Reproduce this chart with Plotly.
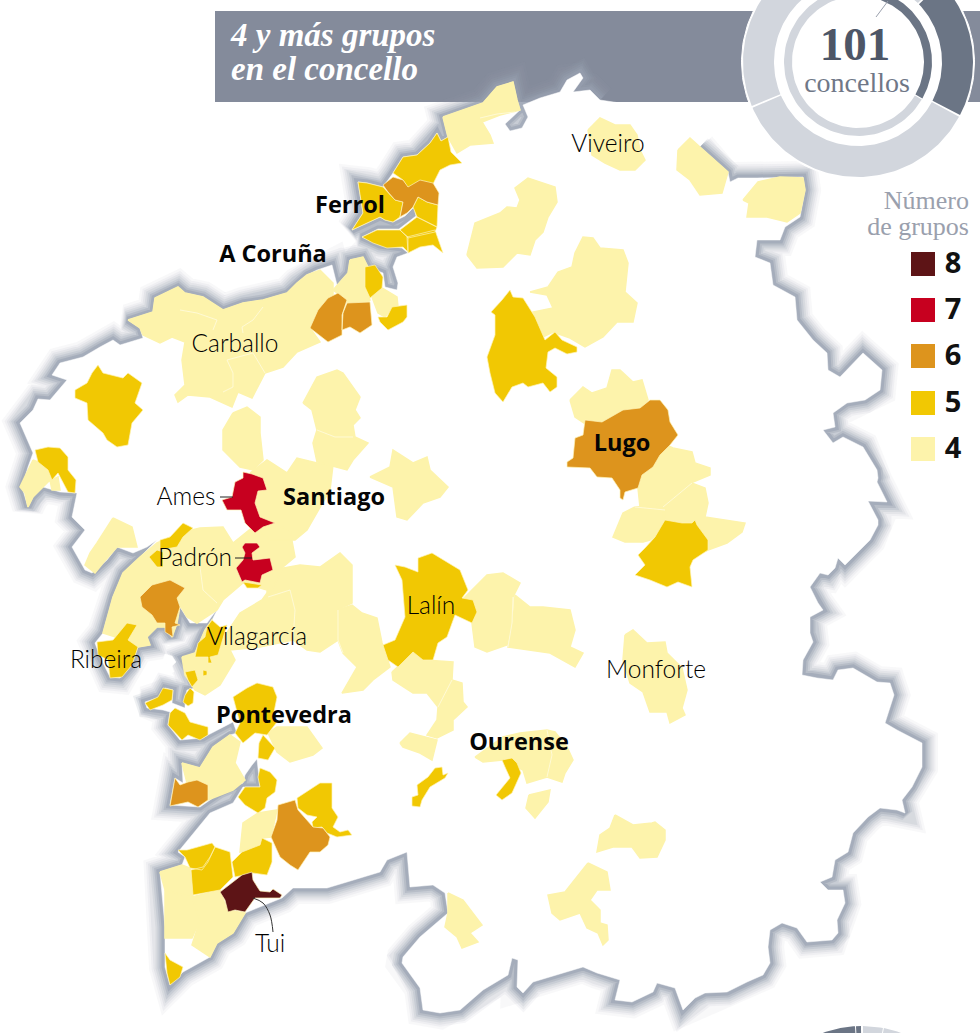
import numpy as np
import plotly.graph_objects as go

# outlines, in picture units
GALICIA = [(20,423),(33,410),(38,399),(50,400),(67,380),(52,375),(60,363),(83,357),(100,347),(113,340),(120,345),(143,338),(140,328),(128,320),(153,312),(155,298),(178,287),(185,293),(203,297),(223,310),(243,303),(263,300),(287,293),(297,283),(307,275),(317,270),(332,265),(337,285),(348,273),(350,260),(363,257),(368,267),(383,273),(385,287),(397,290),(398,283),(393,267),(397,257),(408,253),(402,248),(380,245),(362,237),(378,229),(399,229),(416,216),(414,207),(405,216),(393,222),(385,220),(380,217),(352,230),(363,213),(358,182),(367,183),(383,187),(393,173),(403,157),(417,155),(430,143),(437,133),(441,141),(448,137),(443,117),(463,110),(483,103),(497,87),(513,82),(517,100),(520,110),(505,124),(510,131),(522,128),(528,117),(523,105),(540,98),(560,92),(567,80),(580,73),(583,78),(573,92),(590,90),(600,100),(620,103),(640,118),(655,118),(680,135),(700,147),(728,172),(730,182),(738,178),(757,178),(803,177),(805,190),(800,217),(785,227),(780,240),(757,240),(755,257),(770,263),(773,285),(795,297),(797,320),(813,340),(827,353),(828,370),(840,377),(863,353),(882,370),(880,390),(865,400),(847,403),(833,413),(835,427),(823,430),(833,443),(843,437),(863,447),(877,470),(878,478),(877,482),(887,502),(868,501),(878,520),(878,525),(870,540),(860,550),(845,565),(838,558),(835,568),(828,575),(820,573),(810,587),(818,603),(823,610),(810,617),(810,633),(813,642),(803,660),(802,675),(817,678),(833,680),(838,670),(853,668),(877,682),(890,683),(894,695),(891,705),(885,723),(897,730),(910,737),(922,743),(922,767),(912,787),(902,800),(905,813),(897,810),(880,808),(868,817),(853,833),(848,852),(835,860),(832,877),(820,882),(828,890),(843,890),(845,903),(837,920),(838,933),(832,940),(807,942),(797,928),(782,923),(770,930),(768,947),(770,963),(763,975),(747,982),(727,992),(705,993),(695,998),(683,1010),(675,988),(657,983),(653,992),(632,1002),(615,1000),(620,980),(597,973),(583,967),(563,973),(533,982),(523,993),(517,987),(518,960),(512,958),(508,975),(483,990),(460,1010),(440,1013),(423,1010),(420,988),(402,963),(403,957),(420,937),(448,913),(445,893),(433,885),(410,887),(407,852),(387,860),(380,872),(347,882),(327,888),(293,888),(282,898),(245,913),(233,933),(217,943),(210,957),(183,972),(170,985),(165,967),(165,927),(160,872),(182,865),(185,857),(178,852),(192,835),(210,813),(233,803),(243,787),(260,787),(258,768),(257,759),(252,765),(245,775),(243,783),(220,793),(200,807),(170,805),(175,778),(183,783),(182,763),(200,768),(213,747),(230,735),(237,733),(233,722),(208,735),(203,738),(180,740),(168,725),(170,712),(163,710),(147,708),(145,702),(160,697),(165,688),(173,690),(172,703),(185,708),(185,698),(187,690),(195,688),(190,672),(182,658),(195,653),(205,630),(212,620),(218,608),(207,623),(190,623),(180,607),(177,623),(172,637),(165,627),(157,627),(147,637),(150,645),(138,647),(130,667),(120,678),(110,677),(100,657),(95,643),(103,633),(113,597),(123,573),(140,557),(157,540),(147,547),(133,553),(117,547),(107,560),(92,573),(85,570),(72,547),(85,530),(72,517),(77,493),(60,492),(43,487),(33,497),(28,507),(22,487),(28,467),(33,453)]
AROUSA = [(165,654),(172,656),(176,662),(172,666),(174,672),(168,674),(167,664),(163,660)]

GROUP_4 = [
    [(443,117),(463,110),(483,103),(497,87),(513,82),(517,100),(520,110),(500,115),(482,122),(490,135),(493,143),(470,145),(457,153),(448,137)],
    [(588,130),(600,118),(615,125),(630,125),(637,135),(640,150),(645,160),(635,170),(620,170),(605,163),(592,155)],
    [(678,150),(690,138),(700,147),(728,172),(722,193),(700,195),(690,180),(677,170)],
    [(743,200),(758,182),(780,177),(803,178),(805,190),(800,213),(787,222),(767,217),(747,217),(749,203)],
    [(467,255),(475,223),(500,213),(507,207),(517,208),(520,200),(515,188),(528,178),(555,187),(557,202),(548,217),(543,232),(535,240),(530,255),(517,253),(503,267),(477,268)],
    [(530,292),(548,287),(558,272),(572,267),(575,253),(583,237),(593,238),(600,248),(623,250),(628,263),(625,292),(637,303),(633,322),(617,322),(603,337),(585,347),(570,338),(553,332),(543,337),(533,312),(553,308),(547,295)],
    [(570,400),(583,387),(592,393),(607,388),(612,370),(620,370),(633,382),(642,380),(648,400),(633,415),(600,428),(587,425),(575,417)],
    [(662,443),(673,448),(692,452),(695,463),(710,468),(710,475),(693,482),(673,500),(667,507),(640,507),(638,488),(642,475),(653,467)],
    [(663,507),(692,483),(705,488),(708,503),(705,517),(727,520),(745,523),(742,532),(727,543),(708,550),(693,557),(663,527)],
    [(635,507),(665,505),(665,528),(650,540),(643,542),(625,542),(613,537),(623,513)],
    [(625,635),(633,630),(647,643),(665,642),(667,653),(682,668),(687,690),(682,708),(685,715),(670,723),(667,712),(650,712),(643,692),(630,683),(623,660)],
    [(462,600),(487,575),(503,573),(520,583),(513,597),(512,623),(507,645),(487,652),(475,647),(472,623),(477,610),(468,600)],
    [(515,595),(530,607),(543,607),(570,610),(575,630),(570,647),(583,653),(575,667),(550,653),(527,650),(508,647),(513,623)],
    [(267,593),(273,570),(300,565),(320,567),(340,553),(352,565),(352,603),(337,610),(338,640),(320,652),(307,650),(293,640),(260,647),(230,650),(222,640),(240,613),(262,600)],
    [(338,610),(352,605),(362,613),(377,618),(382,643),(390,667),(373,680),(363,690),(342,693),(357,667),(343,653),(338,640)],
    [(392,672),(413,653),(425,660),(453,662),(452,680),(462,683),(463,702),(467,707),(453,720),(453,730),(437,738),(427,735),(437,720),(438,707),(427,693),(413,693),(393,680)],
    [(400,743),(410,733),(437,740),(432,760),(420,753),(403,747)],
    [(475,757),(503,737),(520,733),(547,730),(555,732),(567,747),(573,760),(565,773),(562,782),(547,777),(537,780),(527,783),(523,770),(503,760),(483,762)],
    [(529,795),(550,790),(548,802),(535,818),(526,808)],
    [(615,815),(633,825),(652,823),(655,822),(665,830),(665,840),(657,857),(640,858),(632,847),(613,847),(597,852),(600,835),(610,828)],
    [(588,863),(607,872),(610,890),(597,890),(590,900),(600,910),(600,923),(607,925),(608,940),(603,945),(598,933),(587,928),(580,913),(560,920),(552,913),(548,895),(565,892),(577,877)],
    [(448,893),(463,900),(482,925),(470,933),(478,942),(462,948),(457,937),(445,927),(448,913)],
    [(33,460),(20,487),(25,493),(28,507),(33,497),(43,487),(50,480),(52,490),(60,490),(58,477),(52,480),(48,470),(38,462)],
    [(113,518),(132,527),(137,547),(117,547),(103,563),(95,573),(85,565),(90,553),(97,543),(107,527)],
    [(128,320),(153,312),(155,298),(178,287),(185,293),(203,297),(223,310),(243,303),(263,300),(287,293),(297,283),(307,275),(320,270),(333,283),(333,295),(320,310),(310,328),(320,342),(297,352),(283,367),(265,373),(252,398),(238,392),(232,407),(210,397),(188,395),(178,402),(175,395),(185,385),(182,360),(185,342),(172,337),(160,343),(143,335),(140,328)],
    [(350,260),(363,257),(368,267),(365,285),(370,300),(366,305),(348,303),(340,295),(333,290),(348,273)],
    [(382,288),(397,297),(398,307),(392,308),(385,317),(378,313),(372,297)],
    [(303,403),(317,377),(337,370),(343,373),(360,397),(355,410),(360,418),(353,425),(355,437),(368,443),(353,460),(347,470),(317,462),(313,443),(317,430),(312,410)],
    [(233,413),(247,407),(260,417),(260,433),(263,460),(253,470),(240,467),(223,450),(223,430)],
    [(250,473),(267,460),(287,473),(297,458),(317,463),(333,465),(330,490),(317,513),(307,530),(295,540),(270,540),(257,530)],
    [(370,477),(390,467),(393,450),(413,463),(427,457),(430,470),(448,487),(440,497),(423,503),(407,520),(397,517),(393,487)],
    [(113,597),(123,573),(140,557),(157,543),(180,533),(200,528),(223,527),(233,543),(253,527),(270,523),(290,530),(295,557),(283,567),(268,597),(267,590),(243,583),(223,600),(217,610),(197,623),(187,617),(180,605),(177,623),(172,637),(165,627),(157,627),(147,637),(150,645),(138,647),(125,640),(103,633)],
    [(182,657),(195,653),(205,630),(212,620),(222,640),(230,650),(235,660),(220,685),(205,695),(195,690),(185,675)],
    [(268,733),(277,727),(307,727),(322,748),(313,755),(290,762),(277,752)],
    [(182,763),(200,768),(213,747),(230,735),(240,742),(235,763),(245,780),(233,790),(208,800),(208,787),(197,780),(187,783)],
    [(258,813),(277,810),(271,837),(262,838),(258,847),(240,852),(243,823)],
    [(160,872),(182,865),(190,868),(193,897),(165,890)],
    [(165,890),(192,897),(200,920),(192,938),(165,938)],
    [(192,897),(220,890),(227,910),(245,913),(233,933),(217,943),(210,957),(192,945),(200,920)],
]
GROUP_5 = [
    [(352,230),(363,213),(358,182),(367,183),(383,187),(388,192),(395,200),(403,202),(400,217),(393,222),(385,220),(380,217)],
    [(393,173),(403,157),(417,155),(430,143),(437,133),(441,141),(448,137),(451,152),(462,163),(450,165),(440,170),(433,184),(420,181),(408,188),(403,180)],
    [(418,197),(427,202),(438,205),(437,227),(417,217),(413,207)],
    [(400,230),(417,217),(437,227),(435,232),(408,238)],
    [(435,230),(443,253),(433,245),(420,247),(408,253),(407,237)],
    [(362,237),(377,230),(400,230),(408,237),(408,252),(403,247),(387,248),(373,243)],
    [(365,267),(375,265),(383,277),(382,288),(370,298),(365,287)],
    [(378,317),(387,317),(392,307),(407,305),(407,317),(403,322),(388,330),(380,322)],
    [(510,290),(513,297),(523,298),(535,317),(545,340),(555,332),(562,340),(577,347),(577,352),(567,354),(555,348),(548,352),(546,368),(557,377),(557,387),(550,392),(543,383),(528,387),(523,383),(512,387),(503,402),(495,393),(490,373),(487,357),(495,335),(495,315),(491,312),(502,300)],
    [(665,520),(682,523),(692,523),(695,520),(697,525),(708,540),(708,550),(693,560),(690,567),(692,587),(678,582),(667,587),(650,580),(635,575),(645,565),(638,555),(645,548),(655,537)],
    [(395,565),(405,567),(418,572),(418,558),(432,553),(447,562),(460,570),(468,590),(462,598),(473,600),(477,612),(472,623),(455,615),(447,637),(438,643),(433,660),(423,660),(413,652),(398,667),(388,660),(383,645),(395,640),(405,617),(402,580)],
    [(412,797),(418,795),(417,785),(428,777),(435,768),(442,767),(443,775),(448,773),(445,778),(430,787),(422,800),(420,807),(412,806)],
    [(502,760),(512,758),(517,763),(521,773),(512,793),(502,800),(496,795),(510,778),(505,767)],
    [(98,365),(103,373),(123,378),(128,373),(142,383),(135,403),(143,410),(132,423),(128,445),(117,447),(107,440),(103,433),(88,420),(87,403),(75,398),(75,390),(87,383),(92,373)],
    [(35,450),(48,447),(60,448),(68,457),(68,470),(76,480),(75,493),(68,492),(58,473),(52,480),(48,470),(38,462)],
    [(97,642),(113,640),(127,623),(137,625),(128,640),(138,647),(132,665),(122,677),(110,678),(108,660),(98,655)],
    [(160,540),(170,537),(183,523),(193,528),(183,537),(177,547),(160,550)],
    [(149,557),(157,550),(163,552),(163,567),(157,567)],
    [(243,582),(262,585),(258,588),(247,588)],
    [(212,620),(220,627),(227,625),(222,643),(218,655),(210,657),(212,663),(208,663),(208,657),(195,657),(198,643),(205,637),(207,627)],
    [(185,672),(195,670),(198,680),(192,687),(188,680)],
    [(203,670),(207,671),(207,675),(203,676)],
    [(190,688),(194,692),(193,703),(188,706),(183,702),(185,695)],
    [(145,703),(158,697),(163,688),(173,690),(172,700),(163,705),(150,710)],
    [(170,713),(175,708),(185,713),(190,722),(208,727),(208,735),(200,740),(188,735),(182,740),(168,725)],
    [(233,697),(247,688),(257,683),(273,687),(277,697),(273,717),(277,722),(267,735),(255,733),(243,743),(235,733),(240,723)],
    [(263,735),(275,748),(268,760),(258,758),(259,743)],
    [(260,768),(270,772),(277,780),(275,792),(267,798),(265,808),(258,813),(245,805),(238,797),(245,787),(260,787),(258,777)],
    [(297,798),(320,783),(332,783),(332,808),(338,817),(333,827),(340,832),(348,830),(352,835),(337,837),(327,833),(322,827),(313,828),(312,822),(317,817),(307,815),(298,808)],
    [(262,838),(272,843),(272,862),(267,875),(253,873),(235,877),(232,862),(242,852),(260,845)],
    [(215,847),(230,852),(233,877),(220,890),(193,895),(191,870),(203,867),(210,857)],
    [(178,850),(187,850),(212,843),(215,847),(208,862),(202,870),(190,868),(185,857)],
    [(165,953),(170,960),(183,967),(180,977),(170,985),(167,973)],
]
GROUP_6 = [
    [(383,185),(393,177),(403,180),(408,187),(420,180),(433,183),(439,193),(438,205),(427,202),(418,197),(413,207),(407,213),(400,217),(403,202),(395,200),(388,192)],
    [(328,298),(338,293),(347,300),(342,315),(342,335),(328,342),(310,328),(318,310)],
    [(347,303),(370,302),(372,325),(360,333),(350,327),(342,330),(343,313)],
    [(585,420),(602,422),(623,410),(640,408),(650,400),(660,400),(668,410),(670,422),(678,435),(670,445),(660,455),(653,467),(642,475),(638,488),(625,492),(623,500),(620,498),(620,490),(612,478),(597,477),(590,468),(567,467),(567,462),(573,458),(575,438),(583,435)],
    [(140,597),(152,585),(170,580),(185,588),(177,598),(180,607),(175,623),(180,625),(172,627),(173,637),(165,632),(165,623),(157,623),(152,615),(142,607)],
    [(175,778),(180,785),(188,782),(197,780),(208,785),(208,800),(198,807),(188,802),(170,806)],
    [(295,800),(298,810),(313,827),(323,828),(330,837),(328,845),(320,852),(310,852),(298,870),(290,865),(280,857),(271,837),(277,820),(278,805)],
]
GROUP_7 = [
    [(243,472),(252,474),(263,478),(267,490),(258,491),(255,503),(260,517),(275,523),(263,527),(255,533),(245,523),(241,510),(227,510),(222,500),(232,497),(235,482),(243,478)],
    [(245,543),(257,543),(260,547),(252,553),(253,560),(270,558),(273,570),(262,575),(260,583),(245,580),(242,582),(236,568),(243,560),(245,553),(242,547)],
]
GROUP_8 = [
    [(220,892),(235,880),(242,875),(252,872),(253,880),(258,888),(260,891),(270,892),(273,889),(282,895),(280,898),(265,898),(255,898),(245,912),(235,910),(228,912),(225,900)],
]
PALE_BORDERS = [
    [(180,310),(197,313),(217,320),(213,330)],
    [(263,307),(253,320),(242,327),(243,333)],
    [(227,360),(233,373),(233,387),(223,392)],
    [(227,360),(253,353),(265,373)],
    [(200,567),(203,590),(217,603)],
    [(480,118),(497,114),(515,112)],
    [(317,430),(335,437),(353,437)],
    [(268,597),(290,590),(295,610),(293,640)],
    [(338,610),(338,640),(343,653)],
    [(513,597),(512,623),(508,647)],
    [(663,507),(692,483)],
    [(635,507),(665,510)],
    [(438,707),(452,680)],
    [(547,730),(552,755),(547,777)],
]

GROUP_COLORS = {4: "#fdf3ab", 5: "#f1c803", 6: "#dd941d", 7: "#c7001f", 8: "#5d1416"}
LEGEND_GROUPS = [8, 7, 6, 5, 4]
LEGEND_Y = [264, 310, 356, 403, 449]

CITY_NAMES = ["Viveiro", "Carballo", "Ames", "Padrón", "Vilagarcía", "Ribeira", "Lalín", "Monforte", "Tui"]
CITY_X = [608, 235, 186, 195, 257, 106, 431, 656, 270]
CITY_Y = [146, 346, 499, 560, 639, 662, 608, 672, 946]
CAPITAL_NAMES = ["Ferrol", "A Coruña", "Santiago", "Lugo", "Pontevedra", "Ourense"]
CAPITAL_X = [350, 273, 334, 622, 284, 519]
CAPITAL_Y = [207, 256, 499, 445, 717, 744]
LEADERS = [[(220,497),(233,497)], [(235,558),(252,558)]]
TUI_LEADER = [(253,898),(263,903),(270,915),(273,932)]

# donut sectors, clockwise from the top in degrees
RING_DARK = "#6b7585"
RING_LIGHT = "#d2d6dd"
OUTER_ANGLES = [(-112.5, 45.5, RING_LIGHT), (46.5, 117.5, RING_DARK), (118.5, 246.5, RING_LIGHT)]
INNER_ANGLES = [(20, 119.5, RING_DARK), (120.5, 380, RING_LIGHT)]
LOWER_ANGLES = [(-40, -3.5, RING_DARK), (-3, -0.5, RING_DARK), (0.5, 10.5, RING_LIGHT), (11, 40, RING_LIGHT)]


def flatten(polygons):
    xs, ys = [], []
    for poly in polygons:
        xs += [p[0] for p in poly] + [poly[0][0], None]
        ys += [p[1] for p in poly] + [poly[0][1], None]
    return xs, ys


def ring(cx, cy, r_out, r_in, start, end):
    a = np.radians(np.linspace(start, end, 90))
    xs = np.concatenate([cx + r_out*np.sin(a), cx + r_in*np.sin(a[::-1])])
    ys = np.concatenate([cy - r_out*np.cos(a), cy - r_in*np.cos(a[::-1])])
    return list(xs), list(ys)


def add_text(fig, names, xs, ys, family, size, color, weight="normal", style="normal", pos="middle center"):
    fig.add_trace(go.Scatter(x=xs, y=ys, text=names, mode="text", textposition=pos,
                             textfont=dict(family=family, size=size, color=color, weight=weight, style=style)))


fig = go.Figure()

# coast glow, widest first. the stretch under the banner has none
i = GALICIA.index((600,100))
j = GALICIA.index((700,147))
glow = GALICIA[j:] + GALICIA[:i+1]
glow_x = [p[0] for p in glow]
glow_y = [p[1] for p in glow]
for w, alpha in [(32, 0.07), (27, 0.09), (23, 0.12), (19, 0.16), (15, 0.22), (11, 0.35), (7, 0.55)]:
    fig.add_trace(go.Scatter(x=glow_x, y=glow_y, mode="lines",
                             line=dict(color="rgba(152,160,176,%s)" % alpha, width=w)))

land_x, land_y = flatten([GALICIA, AROUSA])
fig.add_trace(go.Scatter(x=land_x, y=land_y, mode="lines", fill="toself", fillcolor="white",
                         line=dict(color="white", width=0.5)))

xs, ys = flatten(GROUP_4)
fig.add_trace(go.Scatter(x=xs, y=ys, mode="lines", fill="toself", fillcolor=GROUP_COLORS[4],
                         line=dict(color=GROUP_COLORS[4], width=1.5)))
for line in PALE_BORDERS:
    fig.add_trace(go.Scatter(x=[p[0] for p in line], y=[p[1] for p in line], mode="lines",
                             line=dict(color="#fffbe0", width=0.8)))
for group, polys in [(5, GROUP_5), (6, GROUP_6), (7, GROUP_7), (8, GROUP_8)]:
    xs, ys = flatten(polys)
    fig.add_trace(go.Scatter(x=xs, y=ys, mode="lines", fill="toself", fillcolor=GROUP_COLORS[group],
                             line=dict(color="#fff3b8", width=0.7)))

for line in LEADERS:
    fig.add_trace(go.Scatter(x=[p[0] for p in line], y=[p[1] for p in line], mode="lines",
                             line=dict(color="#222222", width=1)))
fig.add_trace(go.Scatter(x=[p[0] for p in TUI_LEADER], y=[p[1] for p in TUI_LEADER], mode="lines",
                         line=dict(color="#333333", width=1, shape="spline")))

# donut over the banner
a = np.radians(np.linspace(0, 360, 200))
fig.add_trace(go.Scatter(x=list(858 + 116.5*np.sin(a)), y=list(62 - 116.5*np.cos(a)), mode="lines",
                         fill="toself", fillcolor="white", line=dict(color="white", width=1)))
for start, end, color in OUTER_ANGLES:
    xs, ys = ring(858, 62, 115, 84, start, end)
    fig.add_trace(go.Scatter(x=xs, y=ys, mode="lines", fill="toself", fillcolor=color, line=dict(width=0)))
for start, end, color in INNER_ANGLES:
    xs, ys = ring(858, 62, 74, 66, start, end)
    fig.add_trace(go.Scatter(x=xs, y=ys, mode="lines", fill="toself", fillcolor=color, line=dict(width=0)))
fig.add_trace(go.Scatter(x=[876, 888], y=[17, 1], mode="lines", line=dict(color="#9aa0ad", width=1)))
for start, end, color in LOWER_ANGLES:
    xs, ys = ring(862, 1141, 115, 84, start, end)
    fig.add_trace(go.Scatter(x=xs, y=ys, mode="lines", fill="toself", fillcolor=color, line=dict(width=0)))

# legend
fig.add_trace(go.Scatter(x=[923]*len(LEGEND_Y), y=LEGEND_Y, mode="markers",
                         marker=dict(symbol="square", size=24, color=[GROUP_COLORS[g] for g in LEGEND_GROUPS])))
add_text(fig, [str(g) for g in LEGEND_GROUPS], [953]*len(LEGEND_Y), [y + 2 for y in LEGEND_Y], "Open Sans", 29, "#111111", weight="bold")
add_text(fig, ["Número", "de grupos"], [969, 969], [202, 228], "Liberation Serif", 26, "#9aa0ad", pos="middle left")

# texts
add_text(fig, CITY_NAMES, CITY_X, CITY_Y, "Lato", 24.5, "#000000", weight=300)
add_text(fig, CAPITAL_NAMES, CAPITAL_X, CAPITAL_Y, "Open Sans", 23.5, "#050505", weight="bold")
add_text(fig, ["4 y más grupos", "en el concello"], [231, 231], [38, 72], "Liberation Serif", 33, "white",
         weight="bold", style="italic", pos="middle right")
add_text(fig, ["101"], [855], [48], "Liberation Serif", 47, "#4d5667", weight="bold")
add_text(fig, ["concellos"], [857], [85], "Liberation Serif", 28, "#6f7787")

fig.update_traces(hoverinfo="skip", showlegend=False)
fig.update_layout(
    width=980, height=1033, margin=dict(l=0, r=0, t=0, b=0),
    paper_bgcolor="white", plot_bgcolor="white",
    xaxis=dict(range=[0, 980], visible=False, fixedrange=True),
    yaxis=dict(range=[1033, 0], visible=False, fixedrange=True),
    shapes=[dict(type="rect", xref="x", yref="y", x0=215, x1=980, y0=11, y1=102,
                 fillcolor="#848b9b", line_width=0, layer="below")],
)
fig.write_html("out.html", config=dict(displayModeBar=False),
               post_script="document.body.style.margin='0';document.body.style.overflow='hidden';")
